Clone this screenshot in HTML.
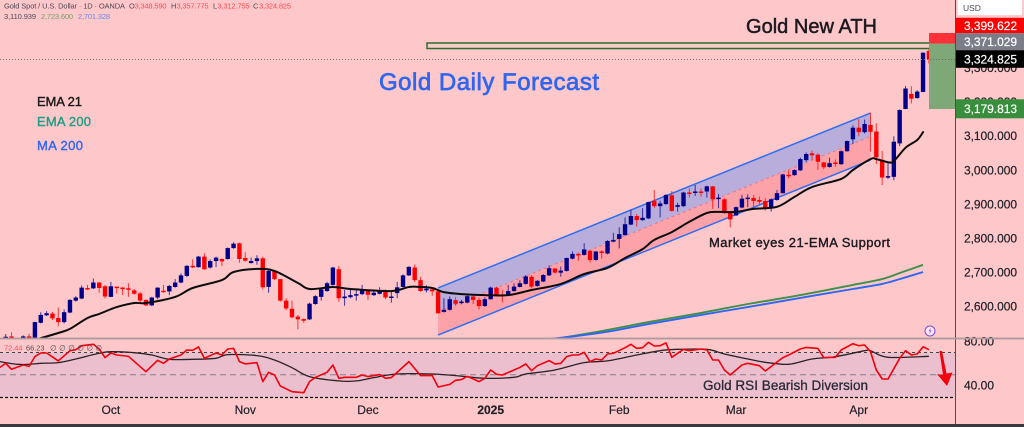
<!DOCTYPE html>
<html lang="en">
<head>
<meta charset="utf-8">
<title>Gold Daily Forecast</title>
<style>
html,body{margin:0;padding:0;width:1024px;height:427px;overflow:hidden;background:#fec8cb}
svg{display:block;font-family:"Liberation Sans",sans-serif}
</style>
</head>
<body>
<svg id="chart" width="1024" height="427" viewBox="0 0 1024 427" xmlns="http://www.w3.org/2000/svg">
  <defs>
    <clipPath id="main-clip"><rect x="0" y="0" width="955" height="338"></rect></clipPath>
  </defs>
  <rect x="0" y="0" width="1024" height="427" fill="#fec8cb"></rect>
  <g id="channel-layer" clip-path="url(#main-clip)"></g>
  <g id="ma-layer" clip-path="url(#main-clip)"></g>
  <g id="candle-layer" clip-path="url(#main-clip)"></g>
  <g id="ema-layer" clip-path="url(#main-clip)"></g>

  <rect x="427" y="43" width="528.5" height="5.5" fill="#f8cfc8" stroke="#2e6b30" stroke-width="1.5"></rect>
  <rect x="929" y="33" width="26.5" height="10.5" fill="#ff3038"></rect>
  <rect x="929" y="43.5" width="26.5" height="65.5" fill="#7fa878"></rect>
  <line x1="0" y1="59.5" x2="955" y2="59.5" stroke="#77696c" stroke-width="1" stroke-dasharray="1 2"></line>

  <g id="rsi-pane">
    <rect x="0" y="352.5" width="955" height="45" fill="#ecbfce"></rect>
    <line x1="0" y1="352.5" x2="955" y2="352.5" stroke="#444" stroke-width="1" stroke-dasharray="3 3"></line>
    <line x1="0" y1="374.7" x2="955" y2="374.7" stroke="#8a7f88" stroke-width="1" stroke-dasharray="6 4"></line>
    <line x1="0" y1="397.5" x2="955" y2="397.5" stroke="#111" stroke-width="1.2" stroke-dasharray="3 2"></line>
  </g>
  <g id="rsi-layer"></g>

  <g font-size="7.5">
    <text x="4" y="8.5" fill="#4a4a55" textLength="121">Gold Spot / U.S. Dollar · 1D · OANDA</text>
    <text x="129" y="8.5" fill="#4a4a55">O</text>
    <text x="134.5" y="8.5" fill="#fa4a52" textLength="32">3,348.590</text>
    <text x="171" y="8.5" fill="#4a4a55">H</text>
    <text x="176.5" y="8.5" fill="#fa4a52" textLength="32">3,357.775</text>
    <text x="213" y="8.5" fill="#4a4a55">L</text>
    <text x="217.5" y="8.5" fill="#fa4a52" textLength="32">3,312.755</text>
    <text x="253" y="8.5" fill="#4a4a55">C</text>
    <text x="259" y="8.5" fill="#fa4a52" textLength="32">3,324.825</text>
    <text x="4" y="19" fill="#4a4a55" textLength="32">3,110.939</text>
    <text x="41" y="19" fill="#6da36a" textLength="32">2,723.600</text>
    <text x="78" y="19" fill="#6b86ee" textLength="32">2,701.328</text>
  </g>
  <g font-size="7.4">
    <text x="4" y="350.5" fill="#fa4a52">72.44</text>
    <text x="26" y="350.5" fill="#4a4a55">66.23</text>
    <text x="50" y="350.5" fill="#4a4a55" textLength="52">∅ ∅ ∅ ∅ ∅ ∅</text>
  </g>

  <text x="37" y="106" font-size="13" fill="#1c1a1c" stroke="#1c1a1c" stroke-width=".4" textLength="45">EMA 21</text>
  <text x="37" y="126" font-size="13" fill="#1f9e86" stroke="#1f9e86" stroke-width=".4" textLength="54">EMA 200</text>
  <text x="37" y="150" font-size="13" fill="#2f66f5" stroke="#2f66f5" stroke-width=".4" textLength="46">MA 200</text>
  <text x="379" y="90" font-size="24" fill="#2f66f0" stroke="#2f66f0" stroke-width=".7" textLength="220">Gold Daily Forecast</text>
  <text x="746" y="33" font-size="20" fill="#1c1a1f" stroke="#1c1a1f" stroke-width=".5" textLength="131">Gold New ATH</text>
  <text x="709" y="247" font-size="13" fill="#1c1a1f" stroke="#1c1a1f" stroke-width=".4" textLength="181">Market eyes 21-EMA Support</text>
  <text x="703" y="390" font-size="13.5" fill="#2a2a38" stroke="#2a2a38" stroke-width=".3" textLength="165">Gold RSI Bearish Diversion</text>

  <polygon points="939.5,351 942,351 946.5,373.5 952.5,372.5 947,386 937,374 943,375" fill="#f4000c"></polygon>
  <g>
    <circle cx="930" cy="331" r="5" fill="#fbe6f2" stroke="#7b4fd0" stroke-width="1"></circle>
    <path d="M931 327.8 L928.6 331.3 L930.2 331.3 L929.2 334.2 L931.6 330.5 L930 330.5 Z" fill="#7b4fd0"></path>
  </g>

  <line x1="955.5" y1="0" x2="955.5" y2="424" stroke="#55494c" stroke-width="1"></line>
  <g id="axis-layer" font-size="12" fill="#1f2028" stroke="#1f2028" stroke-width=".2"></g>
  <rect x="0" y="337.6" width="1024" height="1.8" fill="#ae9a9c"></rect>

  <g font-size="12" fill="#fff" stroke="#fff" stroke-width=".2">
    <rect x="958" y="0" width="64" height="15" fill="#fff"></rect>
    <text x="963" y="11" font-size="8.5" fill="#4a4a55" stroke="none">USD</text>
    <rect x="956" y="17.8" width="68" height="15.4" fill="#ff0000" stroke="none"></rect>
    <text x="964" y="30" textLength="53">3,399.622</text>
    <rect x="956" y="33.2" width="68" height="17" fill="#7b7e88" stroke="none"></rect>
    <text x="964" y="46" textLength="53">3,371.029</text>
    <rect x="956" y="50.2" width="68" height="17.6" fill="#000" stroke="none"></rect>
    <text x="964" y="63.5" textLength="53">3,324.825</text>
    <rect x="956" y="99.3" width="68" height="19" fill="#388e3c" stroke="none"></rect>
    <text x="964" y="113" textLength="53">3,179.813</text>
  </g>
  <rect x="0" y="424" width="1024" height="3" fill="#3a3a3e"></rect>
</svg>
<script>
const opens=[2503,2512,2492,2503,2512,2506,2552,2574,2579,2566,2554,2582,2617,2623,2654,2653,2670,2659,2628,2658,2655,2653,2647,2638,2619,2603,2626,2646,2644,2657,2670,2689,2719,2715,2746,2714,2733,2739,2739,2771,2785,2742,2727,2733,2741,2657,2704,2680,2617,2593,2570,2563,2562,2607,2628,2645,2663,2709,2624,2627,2634,2636,2646,2633,2637,2646,2627,2639,2657,2691,2714,2677,2647,2650,2644,2584,2590,2618,2611,2611,2629,2619,2601,2621,2655,2635,2632,2645,2657,2666,2687,2660,2673,2691,2711,2699,2704,2740,2754,2751,2763,2736,2761,2755,2790,2798,2809,2840,2865,2853,2858,2909,2894,2900,2926,2892,2894,2934,2934,2937,2937,2952,2916,2914,2875,2867,2890,2916,2918,2912,2909,2890,2912,2932,2986,2985,2999,3029,3049,3045,3022,3009,3022,3017,3055,3090,3124,3111,3132,3113,3030,2978,2980,3078,3179,3223,3211,3229,3349];
const highs=[2519,2524,2505,2515,2520,2555,2583,2586,2584,2597,2591,2621,2630,2661,2663,2682,2672,2663,2672,2658,2657,2668,2651,2643,2621,2628,2656,2663,2663,2680,2697,2721,2738,2748,2756,2738,2746,2741,2773,2788,2787,2759,2743,2750,2746,2707,2707,2680,2624,2617,2575,2565,2611,2633,2653,2672,2716,2718,2648,2653,2650,2663,2648,2650,2656,2650,2648,2672,2694,2718,2723,2687,2662,2653,2648,2624,2629,2627,2619,2633,2634,2626,2627,2658,2658,2648,2663,2668,2677,2692,2692,2677,2695,2720,2713,2717,2743,2761,2758,2785,2765,2762,2765,2794,2816,2832,2861,2883,2871,2888,2907,2941,2910,2929,2938,2904,2936,2946,2956,2946,2954,2953,2930,2917,2878,2893,2927,2929,2926,2922,2917,2917,2941,2989,3000,3002,3036,3051,3057,3049,3024,3036,3031,3058,3086,3131,3149,3148,3168,3137,3056,3021,3099,3178,3246,3246,3234,3345,3358];
const lows=[2501,2501,2488,2500,2500,2504,2550,2572,2560,2542,2550,2580,2614,2621,2648,2651,2640,2623,2627,2638,2633,2628,2635,2609,2601,2601,2621,2640,2633,2655,2668,2687,2712,2714,2707,2711,2715,2718,2737,2769,2728,2731,2726,2722,2650,2640,2677,2614,2589,2565,2533,2552,2560,2605,2617,2643,2661,2614,2602,2624,2617,2633,2619,2631,2635,2621,2611,2624,2656,2689,2672,2643,2641,2631,2578,2582,2588,2602,2606,2609,2607,2591,2599,2620,2631,2612,2631,2643,2656,2664,2653,2658,2671,2689,2697,2687,2702,2738,2734,2749,2729,2734,2740,2753,2788,2770,2807,2838,2834,2851,2856,2888,2861,2898,2878,2878,2892,2919,2924,2922,2919,2886,2888,2871,2832,2865,2888,2891,2892,2900,2881,2878,2910,2931,2976,2983,2997,3024,3029,3000,3002,3007,3010,3015,3054,3076,3099,3107,3054,3017,2956,2974,2970,3070,3178,3195,3209,3228,3312];
const closes=[2511,2503,2500,2512,2503,2554,2575,2580,2565,2554,2583,2619,2626,2655,2652,2670,2654,2629,2659,2655,2653,2651,2637,2617,2603,2626,2655,2644,2660,2670,2691,2719,2717,2746,2709,2733,2743,2732,2771,2784,2739,2734,2733,2741,2656,2704,2680,2617,2594,2568,2562,2558,2608,2630,2650,2668,2714,2624,2629,2633,2636,2648,2634,2640,2648,2626,2629,2656,2691,2716,2677,2645,2652,2644,2580,2590,2621,2608,2614,2630,2619,2601,2621,2655,2635,2632,2645,2658,2668,2688,2658,2675,2692,2712,2699,2705,2742,2754,2752,2767,2736,2761,2759,2792,2795,2812,2841,2865,2853,2860,2906,2894,2902,2927,2880,2897,2934,2931,2937,2935,2952,2914,2919,2875,2855,2891,2916,2919,2909,2907,2887,2914,2932,2987,2984,3000,3032,3047,3043,3024,3008,3020,3020,3055,3085,3124,3111,3135,3112,3037,2978,2982,3083,3176,3239,3209,3230,3344,3325];

const ema21Bars=[6,9,11,14,16,19,22,24,29,32,37,39,43,46,50,52,56,59,66,69,71,73,75,78,82,86,90,95,99,103,106,109,111,114,117,120,122,125,128,132,135,138,143,145,148,149,151,152,154,156,157];
const ema21Values=[2507,2522,2534,2566,2578,2598,2610,2610,2628,2654,2677,2701,2710,2704,2669,2651,2657,2651,2645,2657,2657,2654,2642,2636,2633,2633,2648,2666,2695,2713,2742,2768,2795,2818,2848,2874,2877,2877,2886,2892,2921,2950,2974,3000,3032,3032,3023,3026,3065,3088,3111];

const ema200Bars=[95,102,110,119,127,136,145,150,153,157];
const ema200Values=[2507,2528,2554,2581,2607,2633,2663,2680,2698,2722];
const ma200Bars=[93,102,110,119,127,136,145,150,153,157];
const ma200Values=[2504,2523,2548,2575,2598,2625,2651,2666,2680,2701];

const rsiBars=[-1,0,1,3,4,5,6,7,9,11,12,13,15,16,17,18,19,21,24,26,27,28,30,31,32,33,34,36,37,38,39,40,41,43,44,45,46,47,49,51,52,53,55,56,57,58,60,61,62,64,65,66,69,71,73,74,76,77,78,79,81,82,83,84,85,87,88,89,90,91,93,94,95,96,97,98,99,100,101,102,103,104,106,107,108,109,110,111,112,113,114,115,116,117,119,120,121,122,123,124,126,127,129,130,133,134,136,137,139,140,142,143,145,146,147,148,149,150,151,153,154,155,156,157,158];
const rsiValues=[56.6,60.3,54.8,58.7,57.5,66.3,69.6,69.6,62.4,71.7,72.6,76.2,77.5,73.2,65.4,69.6,67.8,66.6,52.7,63,60.3,64.2,67.8,72.3,72,75,64.8,69.6,67.8,73.2,73.8,61.8,59.7,60.9,43.7,52.1,49.7,39.7,34.6,33.7,43.7,47.6,52.1,58.7,46.7,47.6,47.6,49.7,48.2,50,46.7,47.3,61.8,49.1,49.1,38.8,41.2,44.9,45.5,48.5,43.7,46.7,54.2,50.3,49.7,54.2,56.6,59.7,53.6,58.1,62.7,59.7,60.3,66.3,67.8,67.8,70.2,61.8,64.2,63.3,68.7,69.3,74.4,77.5,73.8,74.4,79.3,75.9,76.2,78.7,65.7,69.3,72.9,71.7,73.2,72.3,63.3,63.3,54.2,49.7,58.7,60.3,58.1,53.3,65.4,67.8,73.2,74.7,73.8,65.4,65.7,72.3,78,76.2,76.8,70.8,54.2,46.1,46.1,64.8,71.7,67.8,68.7,75.3,72.6];
const rsiMaBars=[-1,2,4,6,9,12,16,18,22,25,28,32,36,38,43,46,49,52,57,60,63,67,73,77,82,87,89,94,99,103,108,112,115,120,123,127,130,134,138,142,147,148,151,158];
const rsiMaValues=[61.8,59.4,59.4,60.3,60.9,64.2,69.3,70.8,69.9,67.8,63.9,63.9,64.8,68.1,67.2,63.3,56.3,48.2,44.3,44.3,47.3,50.6,50.6,49.1,46.7,47.6,50.6,54.2,60.9,62.4,67.8,71.7,72.9,72.9,68.7,64.2,61.2,59.4,64.2,66.3,71.7,71.7,65.7,66.6];

const priceTicks=[3300,3200,3100,3000,2900,2800,2700,2600];
const rsiTicks=[80,40];
const timeLabels=["Oct","Nov","Dec","2025","Feb","Mar","Apr"];
const timeBars=[18,41,62,83,105,125,146];

const channelBars=[74,148];
const channelUpper=[2654,3167];
const channelMiddle=[2585,3098];
const channelLower=[2516,3029];

const NS='http://www.w3.org/2000/svg';
function xScale(i){return 5.7+5.843*i;}
function yScale(p){return 170-(p-3000)*0.341;}
function rsiScale(v){return 385.7-(v-40)*1.105;}
function add(parent,tag,attrs){
  const el=document.createElementNS(NS,tag);
  for(const k in attrs){el.setAttribute(k,attrs[k]);}
  parent.appendChild(el);
  return el;
}
function polyPoints(bars,values,yFn){
  return bars.map(function(b,i){return xScale(b).toFixed(1)+','+yFn(values[i]).toFixed(1);}).join(' ');
}
function smoothPath(bars,values,yFn){
  const pts=bars.map(function(b,i){return [xScale(b),yFn(values[i])];});
  let d='M'+pts[0][0].toFixed(1)+' '+pts[0][1].toFixed(1);
  for(let i=0;i<pts.length-1;i++){
    const p0=pts[Math.max(0,i-1)],p1=pts[i],p2=pts[i+1],p3=pts[Math.min(pts.length-1,i+2)];
    const c1x=p1[0]+(p2[0]-p0[0])/6,c1y=p1[1]+(p2[1]-p0[1])/6;
    const c2x=p2[0]-(p3[0]-p1[0])/6,c2y=p2[1]-(p3[1]-p1[1])/6;
    d+=' C'+c1x.toFixed(1)+' '+c1y.toFixed(1)+' '+c2x.toFixed(1)+' '+c2y.toFixed(1)+' '+p2[0].toFixed(1)+' '+p2[1].toFixed(1);
  }
  return d;
}

/* channel */
const channelLayer=document.getElementById('channel-layer');
const cx0=xScale(channelBars[0]),cx1=xScale(channelBars[1]);
const upperFill=add(channelLayer,'polygon',{points:cx0+','+yScale(channelUpper[0])+' '+cx1+','+yScale(channelUpper[1])+' '+cx1+','+yScale(channelMiddle[1])+' '+cx0+','+yScale(channelMiddle[0]),fill:'#b9aedb'});


const lowerFill=add(channelLayer,'polygon',{points:cx0+','+yScale(channelMiddle[0])+' '+cx1+','+yScale(channelMiddle[1])+' '+cx1+','+yScale(channelLower[1])+' '+cx0+','+yScale(channelLower[0]),fill:'#fea2aa'});


const upperLine=add(channelLayer,'line',{x1:cx0,y1:yScale(channelUpper[0]),x2:cx1,y2:yScale(channelUpper[1]),stroke:'#2f6df0','stroke-width':1.5});


const midLine=add(channelLayer,'line',{x1:cx0,y1:yScale(channelMiddle[0]),x2:cx1,y2:yScale(channelMiddle[1]),stroke:'#e8788c','stroke-width':1,'stroke-dasharray':'3 3'});


const lowerLine=add(channelLayer,'line',{x1:cx0,y1:yScale(channelLower[0]),x2:cx1,y2:yScale(channelLower[1]),stroke:'#2f6df0','stroke-width':1.5});



/* long moving averages */
const maLayer=document.getElementById('ma-layer');
const ema200Line=add(maLayer,'path',{d:smoothPath(ema200Bars,ema200Values,yScale),fill:'none',stroke:'#3f8f4a','stroke-width':1.9});


const ma200Line=add(maLayer,'path',{d:smoothPath(ma200Bars,ma200Values,yScale),fill:'none',stroke:'#2f66f0','stroke-width':1.9});



/* candles */
const candleLayer=document.getElementById('candle-layer');
opens.forEach(function(o,i){
  const c=closes[i];
  const up=c>=o;
  const color=up?'#00008b':'#ff0000';
  const x=xScale(i);
  const wick=add(candleLayer,'line',{x1:x,x2:x,y1:yScale(highs[i]),y2:yScale(lows[i]),stroke:color,'stroke-width':1,opacity:.75});
  
  
  const top=yScale(Math.max(o,c));
  const h=Math.max(1.5,Math.abs(yScale(o)-yScale(c)));
  const body=add(candleLayer,'rect',{x:x-2.2,y:top,width:4.4,height:h,fill:color});
  
  
});

/* EMA 21 */
const emaLayer=document.getElementById('ema-layer');
const ema21Line=add(emaLayer,'path',{d:smoothPath(ema21Bars,ema21Values,yScale),fill:'none',stroke:'#0c0c0c','stroke-width':2,'stroke-linecap':'round'});



/* RSI */
const rsiLayer=document.getElementById('rsi-layer');
const rsiMaLine=add(rsiLayer,'path',{d:smoothPath(rsiMaBars,rsiMaValues,rsiScale),fill:'none',stroke:'#2a2226','stroke-width':1.3});


const rsiLine=add(rsiLayer,'polyline',{points:polyPoints(rsiBars,rsiValues,rsiScale),fill:'none',stroke:'#f4000c','stroke-width':1.6,'stroke-linejoin':'round'});



/* axes */
const axisLayer=document.getElementById('axis-layer');
function fmt(p){return p.toLocaleString('en-US',{minimumFractionDigits:3,maximumFractionDigits:3});}
priceTicks.forEach(function(p){
  const t=add(axisLayer,'text',{x:964,y:yScale(p)+4.3,textLength:53});
  
  
  t.textContent=fmt(p);
});
rsiTicks.forEach(function(v){
  const t=add(axisLayer,'text',{x:964,y:rsiScale(v)+4,textLength:30});
  
  
  t.textContent=v.toFixed(2);
});
timeLabels.forEach(function(label,i){
  const t=add(axisLayer,'text',{x:xScale(timeBars[i]),y:414,'text-anchor':'middle','font-weight':label==='2025'?'bold':'normal'});
  
  
  t.textContent=label;
});
</script>
</body>
</html>
